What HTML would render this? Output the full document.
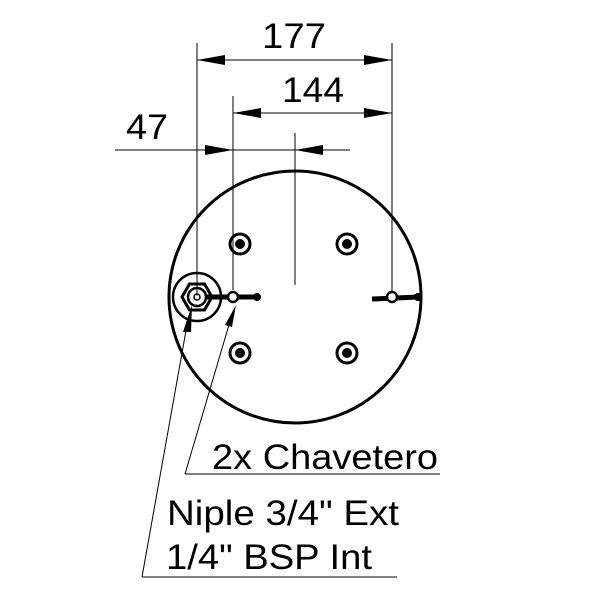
<!DOCTYPE html>
<html><head><style>html,body{margin:0;padding:0;background:#fff}svg{display:block}</style></head>
<body>
<svg width="600" height="600" viewBox="0 0 600 600" xmlns="http://www.w3.org/2000/svg" font-family="Liberation Sans, Arial, sans-serif">
<g stroke="#000" fill="none">
<line x1="197" y1="43" x2="197" y2="297" stroke-width="1"/>
<line x1="392" y1="43" x2="392" y2="297" stroke-width="1"/>
<line x1="233" y1="96" x2="233" y2="290" stroke-width="1"/>
<line x1="295" y1="133" x2="295" y2="285" stroke-width="1"/>
<line x1="197" y1="60" x2="392" y2="60" stroke-width="1"/>
<line x1="233" y1="113" x2="392" y2="113" stroke-width="1"/>
<line x1="115" y1="150" x2="350" y2="150" stroke-width="1"/>
<circle cx="295" cy="297" r="126" stroke-width="3"/>
<circle cx="240" cy="244" r="10" stroke-width="3"/>
<circle cx="347" cy="244" r="10" stroke-width="3"/>
<circle cx="240" cy="353" r="10" stroke-width="3"/>
<circle cx="347" cy="353" r="10" stroke-width="3"/>
<circle cx="197" cy="297" r="24" stroke-width="2.5"/>
<polygon points="182,297 189.5,284 204.5,284 212,297 204.5,310 189.5,310" stroke-width="3"/>
<circle cx="197" cy="297" r="9" stroke-width="2.5"/>
<circle cx="197" cy="297" r="3" stroke-width="1.5"/>
<line x1="206" y1="297" x2="257" y2="297" stroke-width="5"/>
<line x1="372" y1="299" x2="418" y2="297" stroke-width="5"/>
<line x1="187" y1="325" x2="142" y2="577" stroke-width="1"/>
<line x1="142" y1="577" x2="397" y2="577" stroke-width="1"/>
<line x1="231" y1="318" x2="185" y2="474" stroke-width="1"/>
<line x1="185" y1="474" x2="440" y2="474" stroke-width="1"/>
</g>
<g fill="#000">
<circle cx="240" cy="244" r="5"/><circle cx="347" cy="244" r="5"/>
<circle cx="240" cy="353" r="5"/><circle cx="347" cy="353" r="5"/>
<circle cx="257" cy="297" r="4"/><circle cx="418" cy="297" r="4"/>
<polygon points="197,60 225,55 225,65"/>
<polygon points="392,60 364,55 364,65"/>
<polygon points="233,113 261,108 261,118"/>
<polygon points="392,113 364,108 364,118"/>
<polygon points="233,150 205,145 205,155"/>
<polygon points="295,150 323,145 323,155"/>
<polygon points="192,305 183,332 191,332"/>
<polygon points="236,305 225,325 232,327"/>
</g>
<g fill="#fff" stroke="#000" stroke-width="2.5">
<circle cx="233" cy="297" r="5"/>
<circle cx="392" cy="297" r="5"/>
</g>
<circle cx="197" cy="297" r="1.5" fill="#fff"/>
<g font-size="35" fill="#000">
<text x="262" y="48" textLength="64" lengthAdjust="spacingAndGlyphs">177</text>
<text x="282" y="102" textLength="62" lengthAdjust="spacingAndGlyphs">144</text>
<text x="126" y="139" textLength="42" lengthAdjust="spacingAndGlyphs">47</text>
<text x="212" y="469" textLength="226" lengthAdjust="spacingAndGlyphs">2x Chavetero</text>
<text x="167" y="525" textLength="232" lengthAdjust="spacingAndGlyphs">Niple 3/4" Ext</text>
<text x="166" y="569" textLength="206" lengthAdjust="spacingAndGlyphs">1/4" BSP Int</text>
</g>
</svg>
</body></html>
